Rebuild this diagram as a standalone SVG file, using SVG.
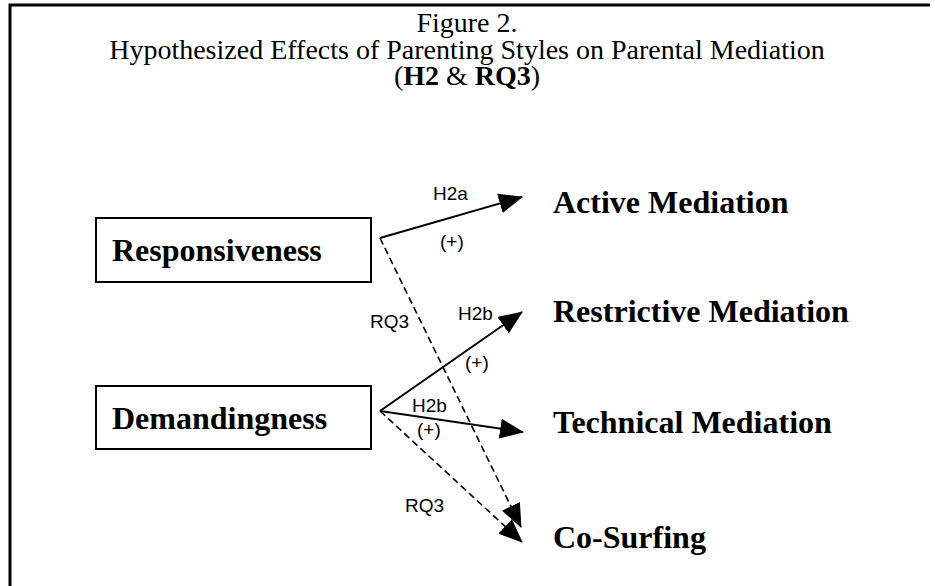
<svg xmlns="http://www.w3.org/2000/svg" width="935" height="586" viewBox="0 0 935 586">
<defs>
<style>
.title{font-family:"Liberation Serif","Times New Roman",serif;font-size:28px;fill:#000;text-anchor:middle}
.node{font-family:"Liberation Serif","Times New Roman",serif;font-size:32px;font-weight:bold;fill:#000}
.lbl{font-family:"Liberation Sans",Arial,sans-serif;font-size:19px;fill:#000}
.box{fill:#fff;stroke:#000;stroke-width:2}
.solid{fill:none;stroke:#000;stroke-width:2;marker-end:url(#ah)}
.dash{fill:none;stroke:#000;stroke-width:1.6;stroke-dasharray:7 4;marker-end:url(#ah)}
</style>
<marker id="ah" markerUnits="userSpaceOnUse" viewBox="0 0 24 20" refX="23" refY="10" markerWidth="24" markerHeight="20" orient="auto">
<path d="M0,0 L24,10 L0,20 Z" fill="#000" stroke="none"/>
</marker>
</defs>
<rect width="935" height="586" fill="#fff"/>
<g id="frame">
<path d="M10,586 V5 H930" fill="none" stroke="#000" stroke-width="3"/>
</g>
<g id="title">
<text class="title" x="467" y="32">Figure 2.</text>
<text class="title" x="467" y="59">Hypothesized Effects of Parenting Styles on Parental Mediation</text>
<text class="title" x="467" y="85">(<tspan font-weight="bold">H2</tspan> &amp; <tspan font-weight="bold">RQ3</tspan>)</text>
</g>
<g id="connectors">
<line class="solid" x1="380" y1="238" x2="522" y2="197"/>
<line class="dash" x1="380" y1="238" x2="521" y2="527"/>
<line class="solid" x1="380" y1="411" x2="522" y2="312"/>
<line class="solid" x1="380" y1="411" x2="523" y2="432"/>
<line class="dash" x1="380" y1="411" x2="522" y2="542"/>
<text class="lbl" x="433" y="200">H2a</text>
<text class="lbl" x="440" y="248">(+)</text>
<text class="lbl" x="370" y="328">RQ3</text>
<text class="lbl" x="458" y="320">H2b</text>
<text class="lbl" x="465" y="369">(+)</text>
<text class="lbl" x="412" y="412">H2b</text>
<text class="lbl" x="417" y="436">(+)</text>
<text class="lbl" x="405" y="512">RQ3</text>
</g>
<g id="responsiveness">
<rect class="box" x="96" y="218" width="275" height="64"/>
<text class="node" x="112" y="261">Responsiveness</text>
</g>
<g id="demandingness">
<rect class="box" x="96" y="386" width="275" height="63"/>
<text class="node" x="112" y="429">Demandingness</text>
</g>
<g id="active">
<text class="node" x="553" y="213">Active Mediation</text>
</g>
<g id="restrictive">
<text class="node" x="553" y="322">Restrictive Mediation</text>
</g>
<g id="technical">
<text class="node" x="553" y="433">Technical Mediation</text>
</g>
<g id="cosurfing">
<text class="node" x="553" y="548">Co-Surfing</text>
</g>
</svg>
